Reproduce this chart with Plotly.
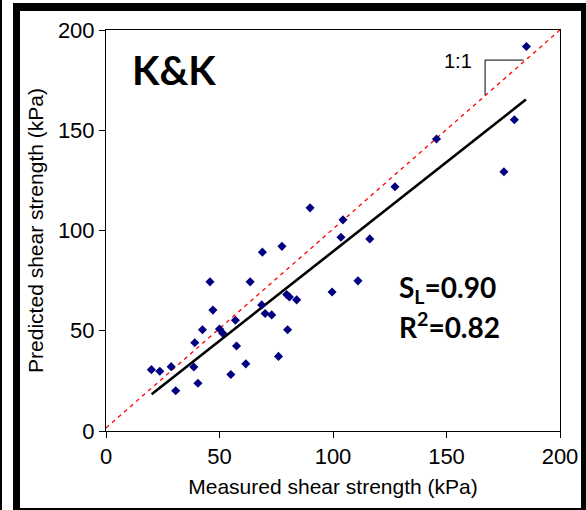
import plotly.graph_objects as go

# Measured (x) vs predicted (y) shear strength, kPa
measured = [20.0, 23.7, 28.7, 30.7, 38.7, 39.1, 40.5, 42.5, 45.8, 47.1,
            50.0, 51.4, 55.0, 57.0, 57.5, 61.6, 63.5, 68.6, 68.9, 70.1,
            73.0, 76.0, 77.5, 79.6, 80.0, 80.8, 84.0, 89.9, 99.6, 103.5,
            104.4, 111.0, 116.2, 127.3, 145.6, 175.3, 179.9, 185.2]
predicted = [30.6, 29.8, 32.1, 20.1, 31.9, 44.0, 23.8, 50.5, 74.4, 60.3,
             50.9, 48.8, 28.2, 55.2, 42.4, 33.5, 74.4, 62.9, 89.2, 58.6,
             57.9, 37.2, 92.1, 68.1, 50.5, 66.8, 65.4, 111.3, 69.3, 96.6,
             105.3, 74.9, 95.8, 121.8, 145.6, 129.3, 155.2, 191.8]

# Regression line (S_L = 0.90) and 1:1 reference line endpoints
fit_x = [20.1, 185.0]
fit_y = [18.3, 165.3]
one_x = [0, 200]
one_y = [1.5, 200]

tick_vals = [0, 50, 100, 150, 200]

fig = go.Figure()
fig.add_trace(go.Scatter(x=one_x, y=one_y, mode="lines",
                         line=dict(color="#FF0000", width=1.3, dash="4px,4px"),
                         hoverinfo="skip", showlegend=False))
fig.add_trace(go.Scatter(x=fit_x, y=fit_y, mode="lines",
                         line=dict(color="black", width=2.6),
                         hoverinfo="skip", showlegend=False))
fig.add_trace(go.Scatter(x=measured, y=predicted, mode="markers",
                         marker=dict(symbol="diamond", size=7, color="#000080",
                                     line=dict(width=0)),
                         showlegend=False))

axis_common = dict(range=[0, 200], tickvals=tick_vals, ticks="outside", ticklen=6,
                   tickwidth=1, tickcolor="black", showline=True, linecolor="black",
                   linewidth=1, mirror=True, showgrid=False, zeroline=False,
                   tickfont=dict(family="Liberation Sans, Arial", size=22, color="black"),
                   automargin=False, fixedrange=True)

fig.update_layout(
    template="none",
    autosize=False,
    width=586, height=510,
    margin=dict(l=106, r=26, t=30, b=79, pad=0, autoexpand=False),
    paper_bgcolor="white", plot_bgcolor="white",
    xaxis=dict(**axis_common,
               title=dict(text="Measured shear strength (kPa)",
                          font=dict(family="Liberation Sans, Arial", size=21, color="black"),
                          standoff=10)),
    yaxis=dict(**axis_common,
               title=dict(text="Predicted shear strength (kPa)",
                          font=dict(family="Liberation Sans, Arial", size=21, color="black"),
                          standoff=8)),
)

# Outer black frame of the image
frame_rects = [
    (-0.2335, -0.2291, -0.197, 1.0748),   # thin left line
    (-0.2048, -0.1894, -0.197, 1.0673),   # left band
    (1.0463, 1.0573, -0.197, 1.0673),     # right band
    (-0.2048, 1.0573, 1.0474, 1.0673),    # top band
    (-0.2048, 1.0573, -0.197, -0.192),    # bottom band
]
for x0, x1, y0, y1 in frame_rects:
    fig.add_shape(type="rect", xref="paper", yref="paper", x0=x0, x1=x1, y0=y0, y1=y1,
                  fillcolor="black", line=dict(width=0), layer="above")

# 1:1 bracket
fig.add_shape(type="path", xref="x", yref="y",
              path="M 167,167.5 L 167,185 L 184,185",
              line=dict(color="black", width=1))

fig.add_annotation(x=155, y=184.3, xref="x", yref="y", text="1:1", showarrow=False,
                   font=dict(family="Liberation Sans, Arial", size=20, color="black"))
fig.add_annotation(x=0.1487, y=0.9, xref="paper", yref="paper", text="<b>K&amp;K</b>",
                   showarrow=False, xanchor="center", yanchor="middle",
                   font=dict(family="Lato", size=40, color="black"))
fig.add_annotation(x=0.641, y=0.354, xref="paper", yref="paper",
                   text="<b>S<sub>L</sub>=0.90</b>", showarrow=False,
                   xanchor="left", yanchor="middle",
                   font=dict(family="Lato", size=28, color="black"))
fig.add_annotation(x=0.641, y=0.262, xref="paper", yref="paper",
                   text="<b>R<sup>2</sup>=0.82</b>", showarrow=False,
                   xanchor="left", yanchor="middle",
                   font=dict(family="Lato", size=28, color="black"))

fig.write_html("out.html",
               config={"responsive": False, "displayModeBar": False, "staticPlot": True},
               post_script="document.body.style.margin='0';document.body.style.overflow='hidden';")
